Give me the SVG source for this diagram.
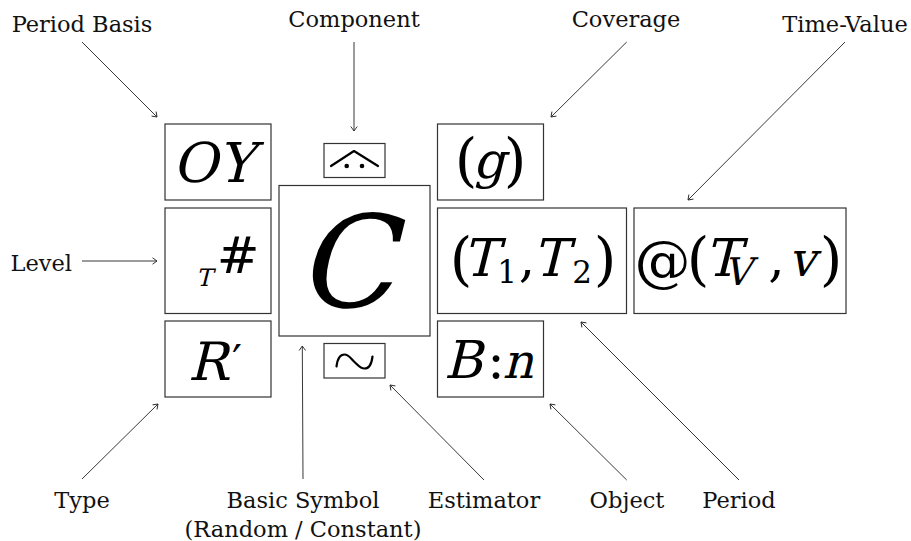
<svg xmlns="http://www.w3.org/2000/svg" width="911" height="541" viewBox="0 0 911 541">
  <defs>
    <marker id="arr" viewBox="-6 -5 8 10" refX="0" refY="0" markerWidth="8" markerHeight="10" orient="auto" markerUnits="userSpaceOnUse">
      <path d="M-4.5,-3.2 L0,0 L-4.5,3.2" fill="none" stroke="#222" stroke-width="0.9"/>
    </marker>
  </defs>
  <style>
    .box{fill:#fff;stroke:#333;stroke-width:1.2}
    .lbl{font-family:"DejaVu Serif",serif;font-size:22.5px;fill:#111;text-anchor:middle}
    .m{font-family:"DejaVu Serif",serif;font-style:normal;fill:#000;text-anchor:middle}
    .sym{fill:none;stroke:#000;stroke-width:2.2;stroke-linecap:round;stroke-linejoin:round}
    #connectors line{stroke:#222;stroke-width:0.9;fill:none;marker-end:url(#arr)}
  </style>
  <rect width="911" height="541" fill="#fff"/>

  <!-- labels -->
  <g id="labels">
    <text class="lbl" x="82" y="32">Period Basis</text>
    <text class="lbl" x="354" y="27">Component</text>
    <text class="lbl" x="626" y="27">Coverage</text>
    <text class="lbl" x="845" y="32">Time-Value</text>
    <text class="lbl" x="72" y="271" style="text-anchor:end">Level</text>
    <text class="lbl" x="82" y="508">Type</text>
    <text class="lbl" x="303" y="508">Basic Symbol</text>
    <text class="lbl" x="303" y="537">(Random / Constant)</text>
    <text class="lbl" x="484" y="508">Estimator</text>
    <text class="lbl" x="627" y="508">Object</text>
    <text class="lbl" x="739" y="508">Period</text>
  </g>

  <!-- italic math letters are slanted upright serif glyphs (skew about the baseline) -->

  <!-- period basis -->
  <g id="node-period-basis">
    <rect class="box" x="165" y="124" width="106" height="76"/>
    <text class="lbl" style="font-size:55px;fill:#000" transform="translate(213,182) skewX(-14)">OY</text>
  </g>

  <!-- component accent -->
  <g id="node-component">
    <rect class="box" x="324" y="143.5" width="61" height="34"/>
    <path class="sym" d="M331,166 L354,151 L378,166"/>
    <circle cx="346.7" cy="166" r="2.3" fill="#000"/>
    <circle cx="362" cy="166" r="2.3" fill="#000"/>
  </g>

  <!-- basic symbol -->
  <g id="node-basic-symbol">
    <rect class="box" x="279" y="185.5" width="151" height="150.5"/>
    <text class="lbl" style="font-size:128px;fill:#000" transform="translate(345,307) skewX(-14)">C</text>
  </g>

  <!-- level -->
  <g id="node-level">
    <rect class="box" x="165" y="208" width="106" height="105.5"/>
    <text class="m" font-size="24" transform="translate(204,286) skewX(-14)">T</text>
    <text class="m" x="238" y="273" font-size="51">#</text>
  </g>

  <!-- type -->
  <g id="node-type">
    <rect class="box" x="165" y="321" width="106" height="76"/>
    <text class="m" font-size="53" transform="translate(208,380) skewX(-14)">R</text>
    <text class="m" x="237" y="377" font-size="44">′</text>
  </g>

  <!-- estimator -->
  <g id="node-estimator">
    <rect class="box" x="324" y="343.5" width="61" height="34.5"/>
    <path class="sym" stroke-width="2.4" d="M336.5,366.5 C337.5,358 341,354.5 344.5,354.5 C349,354.5 351,359 354.5,362 C358,365 360,368.5 364.5,368.5 C368,368.5 371.5,365 372.5,356.5"/>
  </g>

  <!-- coverage -->
  <g id="node-coverage">
    <rect class="box" x="437.5" y="124" width="106" height="76"/>
    <text class="m" x="466" y="180" font-size="58">(</text>
    <text class="m" font-size="50" transform="translate(489,178) skewX(-14)">g</text>
    <text class="m" x="515" y="180" font-size="58">)</text>
  </g>

  <!-- period -->
  <g id="node-period">
    <rect class="box" x="437.5" y="208" width="189" height="105.5"/>
    <text class="m" x="461" y="279" font-size="58">(</text>
    <text class="m" font-size="52" transform="translate(480,276) skewX(-14)">T</text>
    <text class="m" x="507" y="283" font-size="31">1</text>
    <text class="m" x="527" y="276" font-size="52">,</text>
    <text class="m" font-size="52" transform="translate(550,276) skewX(-14)">T</text>
    <text class="m" x="582" y="283" font-size="31">2</text>
    <text class="m" x="605" y="279" font-size="58">)</text>
  </g>

  <!-- time-value -->
  <g id="node-time-value">
    <rect class="box" x="634" y="208" width="212" height="105.5"/>
    <text class="m" x="662.5" y="280" font-size="56">@</text>
    <text class="m" x="698" y="279" font-size="58">(</text>
    <text class="m" font-size="52" transform="translate(722,276) skewX(-14)">T</text>
    <text class="m" font-size="38" transform="translate(737.5,285) skewX(-14)">V</text>
    <text class="m" x="776.5" y="276" font-size="52">,</text>
    <text class="m" font-size="48" transform="translate(802,276) skewX(-14)">v</text>
    <text class="m" x="831" y="279" font-size="58">)</text>
  </g>

  <!-- object -->
  <g id="node-object">
    <rect class="box" x="437.5" y="321" width="106" height="76"/>
    <text class="m" font-size="52" transform="translate(463,378) skewX(-14)">B</text>
    <text class="m" x="496" y="378" font-size="52">:</text>
    <text class="m" font-size="48" transform="translate(518,378) skewX(-14)">n</text>
  </g>

  <g id="connectors">
    <line x1="82" y1="42" x2="157" y2="117"/>
    <line x1="354" y1="42" x2="354" y2="131"/>
    <line x1="626.7" y1="42" x2="551" y2="117"/>
    <line x1="845" y1="42" x2="688" y2="200"/>
    <line x1="82" y1="261" x2="157" y2="261"/>
    <line x1="82" y1="479" x2="158" y2="404"/>
    <line x1="303" y1="479" x2="302.3" y2="346"/>
    <line x1="484" y1="480" x2="390" y2="385"/>
    <line x1="626.7" y1="480" x2="550" y2="404"/>
    <line x1="739" y1="480" x2="581" y2="322"/>
  </g>
</svg>
